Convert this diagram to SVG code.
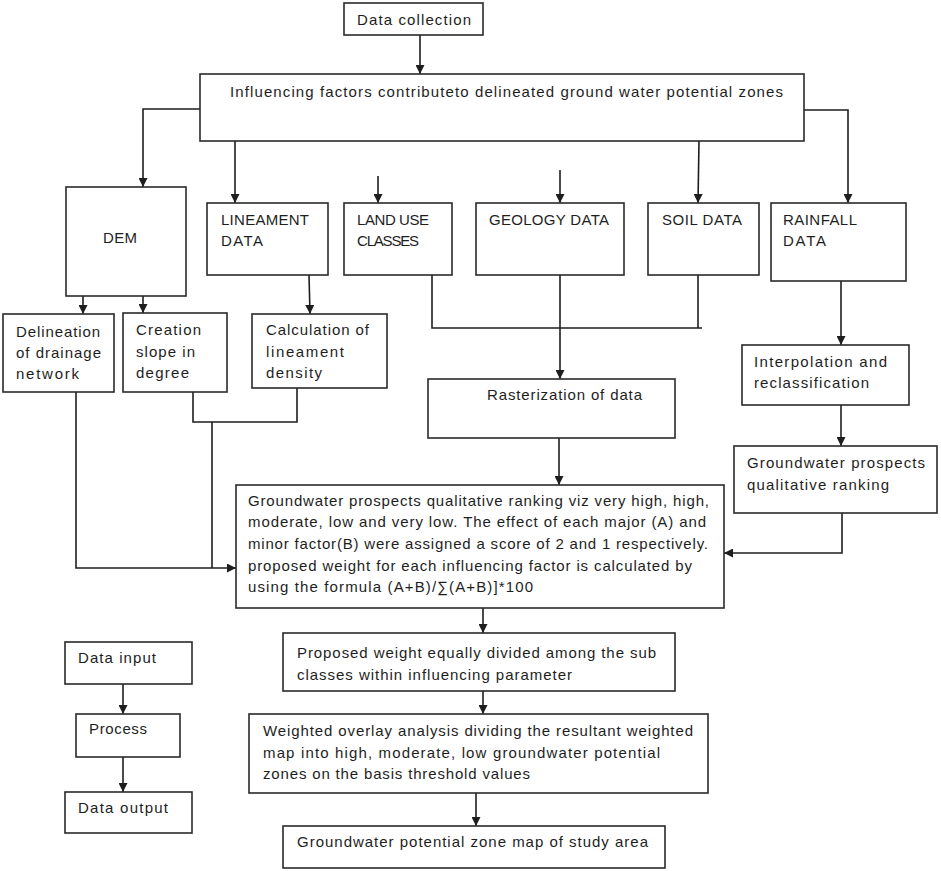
<svg xmlns="http://www.w3.org/2000/svg" width="941" height="871" viewBox="0 0 941 871">
<defs>
<style>
rect{fill:#fff;stroke:#2a2a2a;stroke-width:1.6}
text{font-family:"Liberation Sans",Arial,sans-serif;font-size:15px;fill:#1e1e1e}
.c path{fill:none;stroke:#1e1e1e;stroke-width:1.6}
</style>
<marker id="ah" viewBox="0 0 10 10" refX="10" refY="5" markerWidth="9" markerHeight="9" markerUnits="userSpaceOnUse" orient="auto">
<path d="M0,0 L10,5 L0,10 z" fill="#1e1e1e"/>
</marker>
</defs>
<rect x="0" y="0" width="941" height="871" style="fill:#fff;stroke:none"/>
<g class="c" id="connectors">
<path d="M420,35 V74" marker-end="url(#ah)"/>
<path d="M200,109 H143 V187" marker-end="url(#ah)"/>
<path d="M235,141 V203" marker-end="url(#ah)"/>
<path d="M378,176 V203" marker-end="url(#ah)"/>
<path d="M560,170 V203" marker-end="url(#ah)"/>
<path d="M699,141 L698,203" marker-end="url(#ah)"/>
<path d="M804,110 H848 V203" marker-end="url(#ah)"/>
<path d="M83,296 V314" marker-end="url(#ah)"/>
<path d="M143,296 V313" marker-end="url(#ah)"/>
<path d="M309,275 L310,314" marker-end="url(#ah)"/>
<path d="M432,275 V328 H702"/>
<path d="M698,275 V328"/>
<path d="M560,275 V379" marker-end="url(#ah)"/>
<path d="M841,281 V345" marker-end="url(#ah)"/>
<path d="M841,405 V446" marker-end="url(#ah)"/>
<path d="M842,513 V553 H724" marker-end="url(#ah)"/>
<path d="M559,438 V485" marker-end="url(#ah)"/>
<path d="M193,392 V422 H297 V388"/>
<path d="M212,422 V568"/>
<path d="M76,392 V568 H236" marker-end="url(#ah)"/>
<path d="M483,608 V633" marker-end="url(#ah)"/>
<path d="M483,691 V714" marker-end="url(#ah)"/>
<path d="M476,793 V826" marker-end="url(#ah)"/>
<path d="M123,684 V714" marker-end="url(#ah)"/>
<path d="M123,757 V792" marker-end="url(#ah)"/>
</g>
<g id="data-collection"><rect x="344" y="3" width="139" height="32"/><text x="357" y="25" textLength="114">Data collection</text></g>
<g id="influencing"><rect x="200" y="74" width="604" height="67"/><text x="230" y="97" textLength="553">Influencing factors contributeto delineated ground water potential zones</text></g>
<g id="dem"><rect x="66" y="187" width="120" height="109"/><text x="103" y="243" textLength="34">DEM</text></g>
<g id="lineament"><rect x="207" y="203" width="121" height="72"/><text x="221" y="225" textLength="88">LINEAMENT</text><text x="221" y="246" textLength="42">DATA</text></g>
<g id="landuse"><rect x="344" y="203" width="108" height="72"/><text x="357" y="225" textLength="72">LAND USE</text><text x="357" y="246" textLength="62">CLASSES</text></g>
<g id="geology"><rect x="476" y="203" width="148" height="72"/><text x="489" y="225" textLength="120">GEOLOGY DATA</text></g>
<g id="soil"><rect x="648" y="203" width="111" height="72"/><text x="662" y="225" textLength="80">SOIL DATA</text></g>
<g id="rainfall"><rect x="771" y="203" width="135" height="78"/><text x="783" y="225" textLength="74">RAINFALL</text><text x="783" y="246" textLength="43">DATA</text></g>
<g id="drainage"><rect x="3" y="314" width="111" height="78"/><text x="16" y="337" textLength="84">Delineation</text><text x="16" y="358" textLength="85">of drainage</text><text x="16" y="379" textLength="63">network</text></g>
<g id="slope"><rect x="123" y="313" width="104" height="79"/><text x="136" y="335" textLength="65">Creation</text><text x="136" y="357" textLength="59">slope in</text><text x="136" y="378" textLength="53">degree</text></g>
<g id="lineament-density"><rect x="252" y="314" width="135" height="74"/><text x="266" y="335" textLength="103">Calculation of</text><text x="266" y="357" textLength="78">lineament</text><text x="266" y="378" textLength="56">density</text></g>
<g id="rasterization"><rect x="428" y="379" width="247" height="59"/><text x="487" y="400" textLength="155">Rasterization of data</text></g>
<g id="interpolation"><rect x="742" y="345" width="167" height="60"/><text x="754" y="367" textLength="133">Interpolation and</text><text x="754" y="388" textLength="115">reclassification</text></g>
<g id="gw-prospects"><rect x="734" y="446" width="203" height="67"/><text x="747" y="468" textLength="178">Groundwater prospects</text><text x="747" y="490" textLength="142">qualitative ranking</text></g>
<g id="ranking"><rect x="236" y="485" width="488" height="123"/>
<text x="248" y="506" textLength="461">Groundwater prospects qualitative ranking viz very high, high,</text>
<text x="248" y="527" textLength="458">moderate, low and very low. The effect of each major (A) and</text>
<text x="248" y="549" textLength="460">minor factor(B) were assigned a score of 2 and 1 respectively.</text>
<text x="248" y="571" textLength="444">proposed weight for each influencing factor is calculated by</text>
<text x="248" y="592" textLength="285">using the formula  (A+B)/∑(A+B)]*100</text></g>
<g id="proposed"><rect x="283" y="633" width="392" height="58"/><text x="297" y="658" textLength="359">Proposed weight equally divided among the sub</text><text x="297" y="680" textLength="275">classes within influencing parameter</text></g>
<g id="overlay"><rect x="249" y="714" width="459" height="79"/><text x="263" y="736" textLength="430">Weighted overlay analysis dividing the resultant weighted</text><text x="263" y="758" textLength="397">map into high, moderate, low groundwater potential</text><text x="263" y="779" textLength="267">zones on the basis threshold values</text></g>
<g id="gw-map"><rect x="283" y="826" width="382" height="42"/><text x="297" y="847" textLength="351">Groundwater potential zone map of study area</text></g>
<g id="legend-input"><rect x="65" y="642" width="127" height="42"/><text x="78" y="663" textLength="78">Data input</text></g>
<g id="legend-process"><rect x="76" y="714" width="104" height="43"/><text x="89" y="734" textLength="58">Process</text></g>
<g id="legend-output"><rect x="65" y="792" width="127" height="41"/><text x="78" y="813" textLength="90">Data output</text></g>
</svg>
